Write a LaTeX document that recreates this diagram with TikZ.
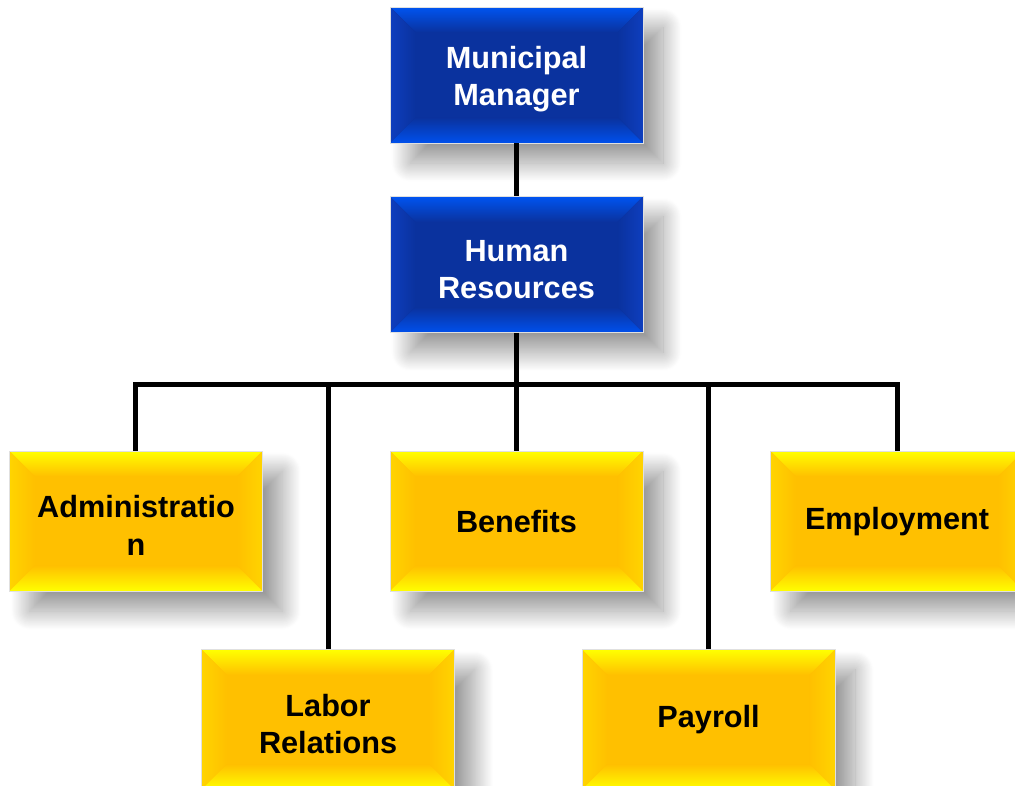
\documentclass[tikz,border=0pt]{standalone}
\usepackage{fontspec}
\setmainfont{Liberation Sans}
\usetikzlibrary{positioning,shadows.blur}

\definecolor{blueface}{RGB}{10,50,158}
\definecolor{bluetop}{RGB}{0,84,240}
\definecolor{blueside}{RGB}{14,62,190}
\definecolor{bluelow}{RGB}{0,80,236}
\definecolor{yellowface}{RGB}{255,192,0}
\definecolor{yellowtop}{RGB}{255,255,0}
\definecolor{yellowside}{RGB}{255,212,0}
\definecolor{yellowlow}{RGB}{255,255,0}

\newcommand\bevel[4]{%
    \path (path picture bounding box.north west) coordinate (ow)
          (path picture bounding box.south east) coordinate (oe)
          ([shift={(19pt,-19pt)}]ow) coordinate (iw)
          ([shift={(-19pt,19pt)}]oe) coordinate (ie);
    \fill[top color=#1, bottom color=#4] (ow) -- (ow -| oe) -- (iw -| ie) -- (iw) -- cycle;
    \fill[left color=#2, right color=#4] (ow) -- (iw) -- (ie -| iw) -- (oe -| ow) -- cycle;
    \fill[left color=#4, right color=#2] (ow -| oe) -- (oe) -- (ie) -- (iw -| ie) -- cycle;
    \fill[top color=#4, bottom color=#3] (oe -| ow) -- (oe) -- (ie) -- (ie -| iw) -- cycle;
}
\newcommand\tallrow{\rule{0pt}{23pt}}

\tikzset{
    box/.style={rectangle, minimum width=189.75pt, inner sep=0pt, draw=black!12,
        line width=0.4pt, align=center, font=\bfseries\fontsize{23}{28}\selectfont,
        blur shadow={shadow xshift=15pt, shadow yshift=-15pt, shadow blur radius=14pt,
        shadow blur steps=40, shadow opacity=40}},
    mgrbox/.style={box, minimum height=102pt, fill=blueface, text=white,
        path picture={\bevel{bluetop}{blueside}{bluelow}{blueface}}},
    unitbox/.style={box, minimum height=105pt, fill=yellowface, text=black,
        path picture={\bevel{yellowtop}{yellowside}{yellowlow}{yellowface}}},
    wire/.style={line width=3.75pt}
}

\begin{document}
\begin{tikzpicture}[x=0.75pt, y=-0.75pt]
    \useasboundingbox (0,0) rectangle (1015,786);
    \clip (0,0) rectangle (1015,786);
    \node[mgrbox] (mm) at (516.5,75) {\tallrow Municipal\\Manager};
    \node[mgrbox, below=39.75pt of mm] (hr) {\tallrow Human\\Resources};
    \node[unitbox, below=88.5pt of hr] (ben) {Benefits};
    \node[unitbox, left=95.25pt of ben] (adm) {\tallrow Administratio\\n};
    \node[unitbox, right=95.25pt of ben] (emp) {Employment};
    \node[unitbox, below=43.5pt of adm.south east, xshift=49pt] (lab) {\tallrow Labor\\Relations};
    \node[unitbox, below=43.5pt of ben.south east, xshift=49pt] (pay) {Payroll};
    \coordinate (bus) at ([yshift=-39pt]hr.south);
    \draw[wire] (mm) -- (hr);
    \draw[wire] (hr) -- (ben);
    \draw[wire] (adm.north) |- (bus) -| (emp.north);
    \draw[wire] (lab.north) -- (lab.north |- bus);
    \draw[wire] (pay.north) -- (pay.north |- bus);
\end{tikzpicture}
\end{document}
